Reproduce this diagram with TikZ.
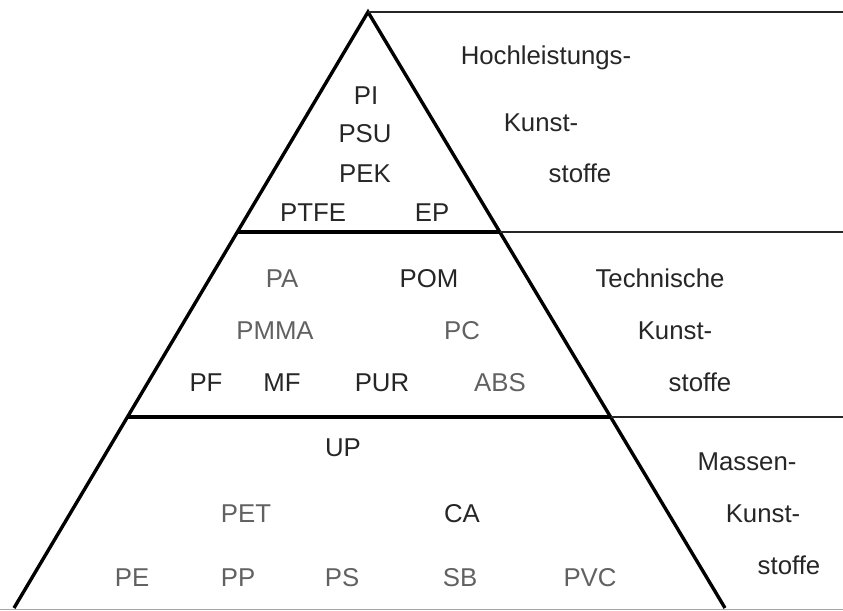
\documentclass[tikz,border=0pt]{standalone}
\usepackage{fontspec}
\setmainfont{Liberation Sans}
\begin{document}
\begin{tikzpicture}[x=.03cm, y=.03cm,
	every node/.style={inner sep=0pt, anchor=base, font=\fontsize{22}{26}\selectfont},
	darklbl/.style={text=black!85},
	lightlbl/.style={text=black!62},
	tri/.style={line width=2.9pt, line join=miter, line cap=butt},
	rule/.style={line width=1.7pt, black!85}]
	\useasboundingbox (0,0) rectangle (843,-610);
	% pyramid corners and dividers
	\coordinate (apex) at (368,-12);
	\coordinate (bl) at (14,-608);
	\coordinate (br) at (725,-608);
	\coordinate (l1) at (238,-232);
	\coordinate (r1) at (500,-232);
	\coordinate (l2) at (128,-417);
	\coordinate (r2) at (611,-417);
	\coordinate (e0) at (843,-12);
	\coordinate (e1) at (843,-232);
	\coordinate (e2) at (843,-417);
	\coordinate (b0) at (0,-609);
	\coordinate (b1) at (843,-609);
	\draw [tri] (bl) -- (apex) -- (br);
	\draw [tri] (l1) -- (r1);
	\draw [tri] (l2) -- (r2);
	\draw [rule] (apex) -- (e0);
	\draw [rule] (r1) -- (e1);
	\draw [rule] (r2) -- (e2);
	\draw [line width=0.8pt, black!35] (b0) -- (b1);
	% top section
	\node [darklbl] (pi) at (366,-104) {PI};
	\node [darklbl] (psu) at (365,-142) {PSU};
	\node [darklbl] (pek) at (365,-182) {PEK};
	\node [darklbl] (ptfe) at (313,-221) {PTFE};
	\node [darklbl] (ep) at (432,-221) {EP};
	\node [darklbl] (hoch) at (546,-64) {Hochleistungs-};
	\node [darklbl] (hochkunst) at (541,-131) {Kunst-};
	\node [darklbl] (hochstoffe) at (580,-182) {stoffe};
	% middle section
	\node [lightlbl] (pa) at (282,-287) {PA};
	\node [darklbl] (pom) at (429,-287) {POM};
	\node [lightlbl] (pmma) at (275,-339) {PMMA};
	\node [lightlbl] (pc) at (462,-339) {PC};
	\node [darklbl] (pf) at (206,-391) {PF};
	\node [darklbl] (mf) at (282,-391) {MF};
	\node [darklbl] (pur) at (382,-391) {PUR};
	\node [lightlbl] (abs) at (500,-391) {ABS};
	\node [darklbl] (tech) at (660,-287) {Technische};
	\node [darklbl] (techkunst) at (675,-339) {Kunst-};
	\node [darklbl] (techstoffe) at (700,-391) {stoffe};
	% bottom section
	\node [darklbl] (up) at (343,-456) {UP};
	\node [lightlbl] (pet) at (246,-522) {PET};
	\node [darklbl] (ca) at (462,-522) {CA};
	\node [lightlbl] (pe) at (132,-586) {PE};
	\node [lightlbl] (pp) at (238,-586) {PP};
	\node [lightlbl] (ps) at (342,-586) {PS};
	\node [lightlbl] (sb) at (460,-586) {SB};
	\node [lightlbl] (pvc) at (590,-586) {PVC};
	\node [darklbl] (massen) at (747,-470) {Massen-};
	\node [darklbl] (massenkunst) at (763,-522) {Kunst-};
	\node [darklbl] (massenstoffe) at (789,-574) {stoffe};
\end{tikzpicture}
\end{document}
